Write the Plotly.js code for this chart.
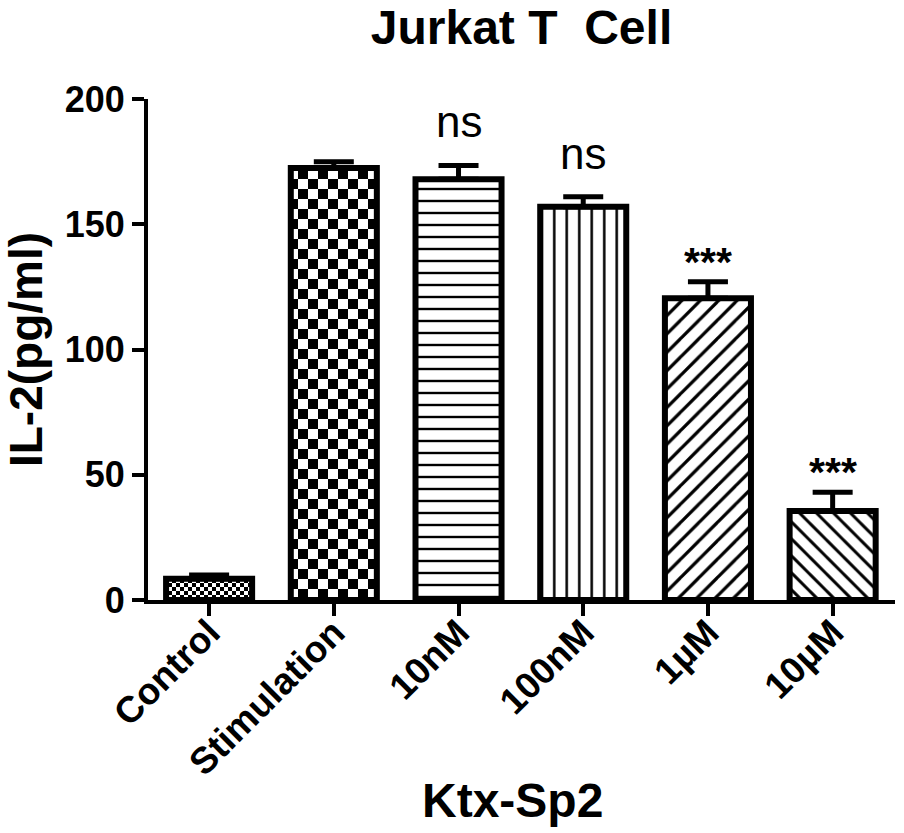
<!DOCTYPE html>
<html>
<head>
<meta charset="utf-8">
<script src="https://cdn.plot.ly/plotly-3.0.1.min.js"></script>
<style>
  html, body { margin: 0; padding: 0; background: #fff; }
  #chart { width: 904px; height: 833px; }
</style>
</head>
<body>
<div id="chart"></div>
<script>
// ---- data ----
const categories = ['Control', 'Stimulation', '10nM', '100nM', '1\u00b5M', '10\u00b5M'];
const il2 = [8.5, 172.5, 168, 157, 120.5, 35.5];
const sem = [1.5, 2.5, 5.5, 4, 6.5, 7.5];
const semMinus = [0, 0, 0, 0, 0, 0];
const significance = ['', '', 'ns', 'ns', '***', '***'];
const yTicks = [0, 50, 100, 150, 200];
const xTitle = 'Ktx-Sp2';

// ---- styles ----
const patternShapes = ['+', '+', '-', '|', '/', '\\'];
const patternSizes = [8, 20, 12, 12.5, 13, 12];
const patternSolidity = [0.3, 0.3, 0.2, 0.2, 0.25, 0.25];
const checkerCell = [4, 10, 0, 0, 0, 0];

const FONT = 'Liberation Sans, Arial, Helvetica, sans-serif';

const trace = {
  type: 'bar',
  x: categories,
  y: il2,
  width: 0.69,
  marker: {
    color: '#ffffff',
    line: { color: '#000000', width: 6 },
    pattern: {
      shape: patternShapes,
      size: patternSizes,
      solidity: patternSolidity,
      fgcolor: '#000000',
      bgcolor: '#ffffff',
      fgopacity: 1,
      fillmode: 'replace'
    }
  },
  error_y: {
    type: 'data',
    symmetric: false,
    array: sem,
    arrayminus: semMinus,
    color: '#000000',
    thickness: 5,
    width: 20
  },
  hoverinfo: 'skip'
};

const annotations = categories.map((c, i) => ({
  x: c,
  y: il2[i] + sem[i],
  xref: 'x',
  yref: 'y',
  text: significance[i],
  showarrow: false,
  yanchor: 'bottom',
  yshift: significance[i] === 'ns' ? 17 : -5,
  font: significance[i] === 'ns'
    ? { family: FONT, size: 44, color: '#000' }
    : { family: FONT, size: 41, color: '#000', weight: 'bold' }
})).filter(a => a.text);

// x-axis title placed below the rotated category labels
annotations.push({
  text: '<b>' + xTitle + '</b>',
  xref: 'paper', yref: 'paper',
  x: 0.488, y: -0.40,
  xanchor: 'center', yanchor: 'middle',
  showarrow: false,
  font: { family: FONT, size: 48, color: '#000' }
});

const layout = {
  width: 904,
  height: 833,
  margin: { l: 148, r: 9, t: 99, b: 233, pad: 0 },
  paper_bgcolor: '#ffffff',
  plot_bgcolor: '#ffffff',
  showlegend: false,
  font: { family: FONT, color: '#000' },
  title: {
    text: '<b>Jurkat T\u00a0 Cell</b>',
    x: 0.5, xref: 'paper', xanchor: 'center',
    y: 1 - 27 / 833, yref: 'container', yanchor: 'middle',
    font: { family: FONT, size: 48, color: '#000' }
  },
  xaxis: {
    type: 'category',
    range: [-0.49, 5.5],
    showline: true, linecolor: '#000', linewidth: 4,
    ticks: 'outside', ticklen: 12, tickwidth: 4, tickcolor: '#000',
    tickangle: -45,
    ticklabelstandoff: -20,
    tickfont: { family: FONT, size: 37, color: '#000', weight: 'bold' },
    showgrid: false, zeroline: false,
    fixedrange: true
  },
  yaxis: {
    range: [0, 200],
    tickvals: yTicks,
    ticktext: yTicks.map(String),
    showline: true, linecolor: '#000', linewidth: 4,
    ticks: 'outside', ticklen: 12, tickwidth: 4, tickcolor: '#000',
    tickfont: { family: FONT, size: 36, color: '#000', weight: 'bold' },
    showgrid: false, zeroline: false,
    fixedrange: true,
    title: {
      text: '<b>IL-2(pg/ml)</b>',
      font: { family: FONT, size: 46, color: '#000' },
      standoff: 10
    }
  },
  annotations: annotations
};

function applyCheckerboards(gd) {
  const svgNS = 'http://www.w3.org/2000/svg';
  const paths = gd.querySelectorAll('.barlayer .point path');
  paths.forEach((p, i) => {
    const cell = checkerCell[i];
    if (!cell) return;
    const fill = p.style.fill || p.getAttribute('fill') || '';
    const m = fill.match(/#([^)"']+)/);
    if (!m) return;
    const pat = document.getElementById(m[1]);
    if (!pat) return;
    pat.setAttribute('width', 2 * cell);
    pat.setAttribute('height', 2 * cell);
    while (pat.firstChild) pat.removeChild(pat.firstChild);
    const mk = (x, y, w, h, col) => {
      const r = document.createElementNS(svgNS, 'rect');
      r.setAttribute('x', x); r.setAttribute('y', y);
      r.setAttribute('width', w); r.setAttribute('height', h);
      r.setAttribute('fill', col);
      pat.appendChild(r);
    };
    mk(0, 0, 2 * cell, 2 * cell, '#ffffff');
    mk(0, 0, cell, cell, '#000000');
    mk(cell, cell, cell, cell, '#000000');
  });
}

Plotly.newPlot('chart', [trace], layout, { staticPlot: true, displayModeBar: false })
  .then(gd => applyCheckerboards(gd));
</script>
</body>
</html>
